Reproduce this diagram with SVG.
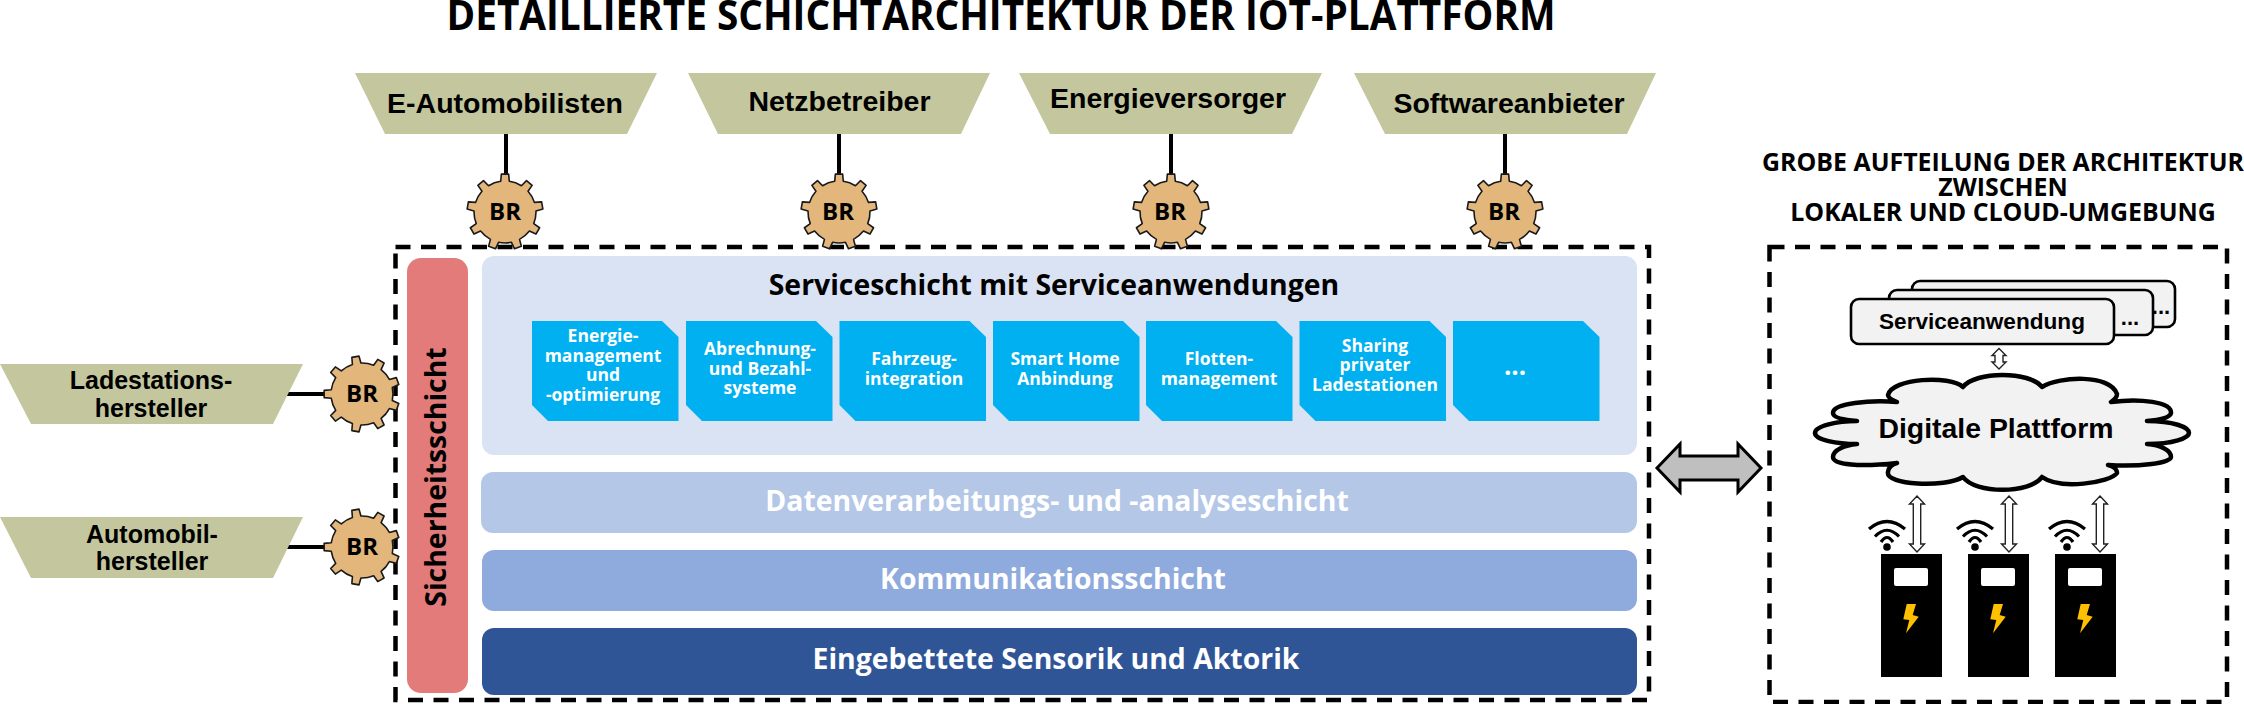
<svg xmlns="http://www.w3.org/2000/svg" xmlns:xlink="http://www.w3.org/1999/xlink" width="2244" height="704" viewBox="0 0 2244 704">
<style>
text{text-anchor:middle}
.os{font-family:"Open Sans","Noto Sans","DejaVu Sans",sans-serif;font-weight:700}
.ar{font-family:"Liberation Sans",Arial,sans-serif;font-weight:700}
.trap{fill:#c4c79d}
.tl{font-size:28.500px;fill:#000}
.sl{font-size:25px;fill:#000}
.conn{stroke:#000;stroke-width:4;fill:none}
.dash{fill:none;stroke:#000;stroke-width:4.500;stroke-dasharray:15 10.500}
.gear{fill:#e3b67c;stroke:#1a1a1a;stroke-width:1.600;stroke-linejoin:round}
.br{font-size:24px;fill:#000}
.tile{fill:#00b0f0}
.tt{font-size:17.500px;fill:#fff}
.layer{font-size:28.400px;fill:#fff}
.card{fill:#f2f2f2;stroke:#000;stroke-width:2.600}
.ar2{fill:#fff;stroke:#222;stroke-width:1.400;stroke-linejoin:miter}
.wifi{fill:none;stroke:#000;stroke-width:3.200}
.h2{font-size:24.900px;fill:#000}
</style>
<defs>
<path id="g" d="M-4.31 -30.7L-3.64 -37.83L3.64 -37.83L4.31 -30.7A31 31 0 0 1 16.43 -26.29L21.52 -31.32L27.1 -26.63L23.04 -20.74A31 31 0 0 1 29.48 -9.58L36.62 -10.15L37.88 -2.98L30.98 -1.08A31 31 0 0 1 28.74 11.61L34.58 15.76L30.94 22.07L24.43 19.09A31 31 0 0 1 14.55 27.37L16.36 34.3L9.52 36.79L6.45 30.32A31 31 0 0 1 -6.45 30.32L-9.52 36.79L-16.36 34.3L-14.55 27.37A31 31 0 0 1 -24.43 19.09L-30.94 22.07L-34.58 15.76L-28.74 11.61A31 31 0 0 1 -30.98 -1.08L-37.88 -2.98L-36.62 -10.15L-29.48 -9.58A31 31 0 0 1 -23.04 -20.74L-27.1 -26.63L-21.52 -31.32L-16.43 -26.29A31 31 0 0 1 -4.31 -30.7Z"/>
<path id="tile" d="M0 0H130L146.500 16V100H16L0 84Z"/>
<path id="da" d="M0 0L7.500 8H3.700V48H7.500L0 56L-7.500 48H-3.700V8H-7.500Z"/>
<path id="bolt" d="M25.700 604H35L31.700 615L37.700 616.700L25 633.300L28.300 620L22.300 619.300Z"/>
<g id="w"><circle cx="0" cy="547" r="3.800" fill="#000"/><path class="wifi" d="M-18 529Q0 514 18 529M-12 536.500Q0 524 12 536.500M-6 542Q0 533 6 542"/></g>
</defs>

<text id="title" class="os" x="1001" y="30" font-size="40.500" fill="#000" textLength="1109" lengthAdjust="spacingAndGlyphs">DETAILLIERTE SCHICHTARCHITEKTUR DER IOT-PLATTFORM</text>

<g id="connectors">
<path class="conn" d="M506 134V175M839 134V175M1171 134V175M1505 134V175M287 394H326M287 547H326"/>
</g>

<g id="main-frame"><rect class="dash" x="395.500" y="247" width="1253.500" height="453"/></g>

<g id="sicherheitsschicht">
<rect x="407" y="258" width="61" height="435" rx="14" fill="#e37b7b"/>
<text class="os" transform="translate(446 477) rotate(-90)" font-size="28.400" fill="#000">Sicherheitsschicht</text>
</g>
<g id="serviceschicht">
<rect x="482" y="256" width="1155" height="199" rx="12" fill="#dae3f3"/>
<text class="os" x="1054" y="295" font-size="28.400" fill="#000">Serviceschicht mit Serviceanwendungen</text>
</g>
<g id="datenverarbeitung">
<rect x="481" y="472" width="1156" height="61" rx="12" fill="#b4c7e7"/>
<text class="os layer" x="1057" y="511">Datenverarbeitungs- und -analyseschicht</text>
</g>
<g id="kommunikation">
<rect x="482" y="550" width="1155" height="61" rx="12" fill="#8faadc"/>
<text class="os layer" x="1053" y="589">Kommunikationsschicht</text>
</g>
<g id="sensorik">
<rect x="482" y="628" width="1155" height="67" rx="12" fill="#2f5597"/>
<text class="os layer" x="1056" y="669">Eingebettete Sensorik und Aktorik</text>
</g>

<g id="tile-1"><use href="#tile" class="tile" x="532" y="321"/>
<text class="os tt" x="603" y="342">Energie-</text><text class="os tt" x="603" y="362">management</text><text class="os tt" x="603" y="381">und</text><text class="os tt" x="603" y="401">-optimierung</text></g>
<g id="tile-2"><use href="#tile" class="tile" x="686" y="321"/>
<text class="os tt" x="760" y="355">Abrechnung-</text><text class="os tt" x="760" y="375">und Bezahl-</text><text class="os tt" x="760" y="394">systeme</text></g>
<g id="tile-3"><use href="#tile" class="tile" x="839.500" y="321"/>
<text class="os tt" x="914" y="365">Fahrzeug-</text><text class="os tt" x="914" y="385">integration</text></g>
<g id="tile-4"><use href="#tile" class="tile" x="993" y="321"/>
<text class="os tt" x="1065" y="365">Smart Home</text><text class="os tt" x="1065" y="385">Anbindung</text></g>
<g id="tile-5"><use href="#tile" class="tile" x="1146" y="321"/>
<text class="os tt" x="1219" y="365">Flotten-</text><text class="os tt" x="1219" y="385">management</text></g>
<g id="tile-6"><use href="#tile" class="tile" x="1299.500" y="321"/>
<text class="os tt" x="1375" y="352">Sharing</text><text class="os tt" x="1375" y="371">privater</text><text class="os tt" x="1375" y="391">Ladestationen</text></g>
<g id="tile-7"><use href="#tile" class="tile" x="1453" y="321"/>
<text class="os" x="1515" y="375" font-size="26" fill="#fff">...</text></g>

<g id="e-automobilisten"><polygon class="trap" points="355,73 657,73 627,134 385,134"/><text class="ar tl" x="505" y="113">E-Automobilisten</text></g>
<g id="netzbetreiber"><polygon class="trap" points="688,73 990,73 961,134 718,134"/><text class="ar tl" x="839.500" y="111">Netzbetreiber</text></g>
<g id="energieversorger"><polygon class="trap" points="1019,73 1322,73 1292,134 1050,134"/><text class="ar tl" x="1168" y="108">Energieversorger</text></g>
<g id="softwareanbieter"><polygon class="trap" points="1354,73 1656,73 1627,134 1385,134"/><text class="ar tl" x="1509" y="113">Softwareanbieter</text></g>
<g id="ladestationshersteller"><polygon class="trap" points="0,364 303,364 273,424 31,424"/><text class="ar sl" x="151" y="389">Ladestations-</text><text class="ar sl" x="151" y="417">hersteller</text></g>
<g id="automobilhersteller"><polygon class="trap" points="0,517 303,517 273,578 31,578"/><text class="ar sl" x="152" y="543">Automobil-</text><text class="ar sl" x="152" y="570">hersteller</text></g>

<g id="br-1"><use href="#g" class="gear" transform="translate(505 212)"/><text class="os br" x="505" y="220">BR</text></g>
<g id="br-2"><use href="#g" class="gear" transform="translate(839 212)"/><text class="os br" x="838" y="220">BR</text></g>
<g id="br-3"><use href="#g" class="gear" transform="translate(1171 212)"/><text class="os br" x="1170" y="220">BR</text></g>
<g id="br-4"><use href="#g" class="gear" transform="translate(1505 212)"/><text class="os br" x="1504" y="220">BR</text></g>
<g id="br-5"><use href="#g" class="gear" transform="translate(362 394) rotate(-90)"/><text class="os br" x="362" y="402">BR</text></g>
<g id="br-6"><use href="#g" class="gear" transform="translate(362 547) rotate(-90)"/><text class="os br" x="362" y="555">BR</text></g>

<g id="big-arrow"><path d="M1657 468L1680 444V456H1738V444L1761 468L1738 492V480H1680V492Z" fill="#bfbfbf" stroke="#000" stroke-width="3"/></g>

<text id="side-title-1" class="os h2" x="2003" y="171">GROBE AUFTEILUNG DER ARCHITEKTUR</text>
<text id="side-title-2" class="os h2" x="2003" y="196">ZWISCHEN</text>
<text id="side-title-3" class="os h2" x="2003" y="221">LOKALER UND CLOUD-UMGEBUNG</text>

<g id="right-frame"><rect class="dash" x="1769.500" y="247" width="457.500" height="455"/></g>

<g id="service-cards">
<rect class="card" x="1912" y="281" width="263" height="46" rx="8"/>
<text class="ar" x="2161" y="314" font-size="22">...</text>
<rect class="card" x="1889" y="290" width="264" height="45" rx="8"/>
<text class="ar" x="2130" y="325" font-size="22">...</text>
<rect class="card" x="1851" y="299" width="263" height="45" rx="8"/>
<text class="ar" x="1982" y="329" font-size="22.600">Serviceanwendung</text>
</g>
<g id="service-arrow"><path class="ar2" d="M1999 348.500L2006 355.500H2003V362H2006L1999 369L1992 362H1995V355.500H1992Z"/></g>

<g id="cloud">
<path fill="#f2f2f2" stroke="#000" stroke-width="4.500" stroke-linejoin="round" d="M1963 387C1975 371 2030 371 2042 387C2060 376 2110 374 2117 394C2117 398 2114 400 2111 402C2140 398 2172 402 2171 413C2170 418 2160 420 2147 421C2173 421 2189 427 2189 433C2189 438 2173 444 2147 444C2160 445 2171 450 2171 457C2171 463 2140 467 2108 465C2113 466 2117 469 2117 473C2110 483 2060 490 2042 477C2030 494 1975 494 1963 477C1945 488 1885 485 1888 472C1888 468 1892 464 1897 463C1860 467 1833 465 1833 457C1833 450 1845 445 1857 444C1837 444 1815 440 1815 433C1815 426 1837 421 1857 421C1845 420 1833 418 1833 413C1833 403 1870 400 1897 402C1892 400 1888 398 1888 395C1892 378 1950 375 1963 387Z"/>
<text class="ar" x="1996" y="438" font-size="28.400" fill="#000">Digitale Plattform</text>
</g>

<g id="charger-1">
<use href="#w" x="1887"/><use href="#da" class="ar2" x="1917" y="496"/>
<rect x="1881" y="554" width="61" height="123" fill="#000"/><rect x="1894" y="568" width="34" height="18" rx="2" fill="#fff"/>
<use href="#bolt" x="1881" fill="#ffc000"/>
</g>
<g id="charger-2">
<use href="#w" x="1975"/><use href="#da" class="ar2" x="2009" y="496"/>
<rect x="1968" y="554" width="61" height="123" fill="#000"/><rect x="1981" y="568" width="34" height="18" rx="2" fill="#fff"/>
<use href="#bolt" x="1968" fill="#ffc000"/>
</g>
<g id="charger-3">
<use href="#w" x="2067"/><use href="#da" class="ar2" x="2100" y="496"/>
<rect x="2055" y="554" width="61" height="123" fill="#000"/><rect x="2068" y="568" width="34" height="18" rx="2" fill="#fff"/>
<use href="#bolt" x="2055" fill="#ffc000"/>
</g>
</svg>
